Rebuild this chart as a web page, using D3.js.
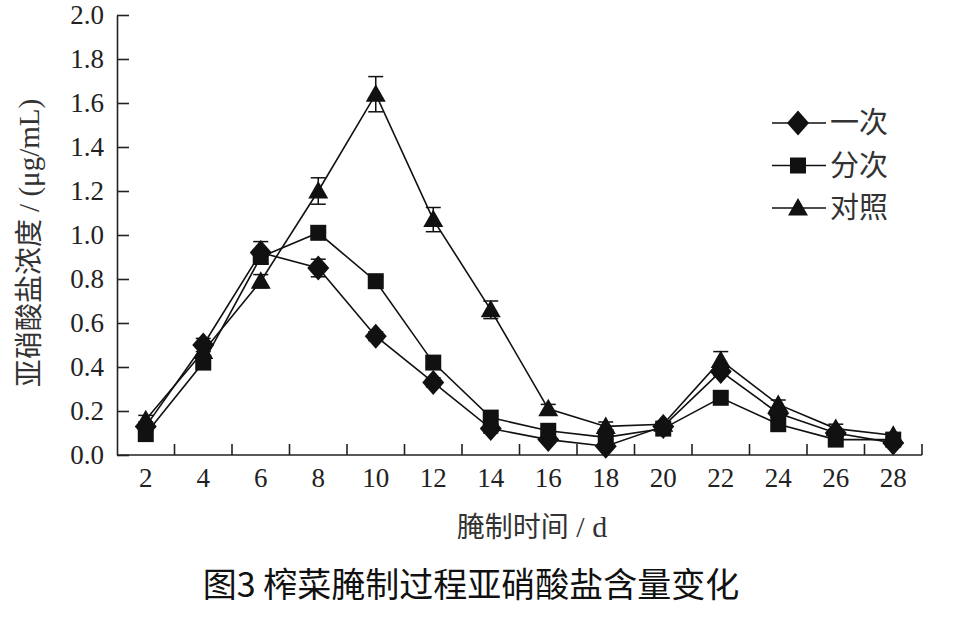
<!DOCTYPE html>
<html>
<head>
<meta charset="utf-8">
<script src="https://cdn.jsdelivr.net/npm/d3@7/dist/d3.min.js"></script>
<style>
  html, body { margin: 0; padding: 0; background: #fff; }
  svg { display: block; }
</style>
</head>
<body>
<svg id="chart" width="963" height="625"></svg>
<script>
// ---- data ----
const days = [2, 4, 6, 8, 10, 12, 14, 16, 18, 20, 22, 24, 26, 28];
const yTicks = [0, 0.2, 0.4, 0.6, 0.8, 1.0, 1.2, 1.4, 1.6, 1.8, 2.0];
const seriesNames = ["一次", "分次", "对照"];
const yici    = [0.13, 0.50, 0.92, 0.85, 0.54, 0.33, 0.12, 0.07, 0.04, 0.13, 0.38, 0.19, 0.10, 0.055];
const fenci   = [0.095, 0.42, 0.90, 1.01, 0.79, 0.42, 0.17, 0.11, 0.08, 0.12, 0.26, 0.14, 0.07, 0.07];
const duizhao = [0.16, 0.47, 0.79, 1.20, 1.64, 1.07, 0.66, 0.21, 0.13, 0.14, 0.43, 0.23, 0.12, 0.09];
const yiciErr    = [0.02, 0.03, 0.05, 0.04, 0.02, 0.02, 0.02, 0.01, 0.01, 0.01, 0.02, 0.02, 0.01, 0.01];
const fenciErr   = [0.01, 0.02, 0.03, 0.02, 0.02, 0.02, 0.01, 0.01, 0.01, 0.01, 0.02, 0.01, 0.01, 0.01];
const duizhaoErr = [0.02, 0.02, 0.03, 0.06, 0.08, 0.055, 0.04, 0.02, 0.02, 0.01, 0.04, 0.02, 0.02, 0.01];
const xLabelCN = "腌制时间";
const xLabelUnit = " / d";
const yLabelCN = "亚硝酸盐浓度";
const yLabelUnit = " / (μg/mL)";
const caption = "图3  榨菜腌制过程亚硝酸盐含量变化";

// ---- setup ----
const svg = d3.select("#chart");
const ink = "#111";
const serif = "'Liberation Serif', 'Times New Roman', serif";
const cjk = "'Noto Sans CJK SC', sans-serif";

const x = d3.scaleBand().domain(days).range([117, 922]).padding(0);
const y = d3.scaleLinear().domain([0, 2]).range([455, 15]);
const cx = d => x(d) + x.bandwidth() / 2;

const series = [
  { name: seriesNames[2], vals: duizhao, err: duizhaoErr, shape: "triangle" },
  { name: seriesNames[1], vals: fenci, err: fenciErr, shape: "square" },
  { name: seriesNames[0], vals: yici, err: yiciErr, shape: "diamond" }
];

function shapePath(shape) {
  if (shape === "diamond") return "M0,-12.5L11,0L0,12.5L-11,0Z";
  if (shape === "square") return "M-8,-8H8V8H-8Z";
  return "M0,-10L10,7.5H-10Z";
}

// ---- axes ----
const yAxis = d3.axisLeft(y).tickValues(yTicks).tickFormat(d3.format(".1f"))
  .tickSizeInner(-12).tickSizeOuter(0).tickPadding(13);
const gy = svg.append("g").attr("transform", "translate(117,0)").call(yAxis);
gy.selectAll("text").attr("font-family", serif).attr("font-size", 27).attr("fill", "#222");
gy.selectAll("line, path").attr("stroke", "#222").attr("stroke-width", 1.6);

const xAxis = d3.axisBottom(x).tickSize(0).tickPadding(13);
const gx = svg.append("g").attr("transform", "translate(0,455)").call(xAxis);
gx.select("path").remove();
gx.selectAll("text").attr("font-family", serif).attr("font-size", 27).attr("fill", "#222");
svg.append("line").attr("x1", x.range()[0]).attr("x2", x.range()[1])
  .attr("y1", y(0)).attr("y2", y(0)).attr("stroke", "#222").attr("stroke-width", 1.6);
// inward ticks at band edges
svg.append("g").selectAll("line").data(days).join("line")
  .attr("x1", d => x(d) + x.bandwidth()).attr("x2", d => x(d) + x.bandwidth())
  .attr("y1", y(0)).attr("y2", y(0) - 11)
  .attr("stroke", "#222").attr("stroke-width", 1.6);

// ---- lines ----
const line = d3.line().x((v, i) => cx(days[i])).y(v => y(v));
series.forEach(s => {
  svg.append("path").attr("d", line(s.vals)).attr("fill", "none")
    .attr("stroke", ink).attr("stroke-width", 1.6);
});

// ---- error bars ----
series.forEach(s => {
  const g = svg.append("g").attr("stroke", ink).attr("stroke-width", 1.5);
  s.vals.forEach((v, i) => {
    const xx = cx(days[i]);
    const top = y(v + s.err[i]), bot = y(v - s.err[i]);
    g.append("line").attr("x1", xx).attr("x2", xx).attr("y1", top).attr("y2", bot);
    g.append("line").attr("x1", xx - 7.5).attr("x2", xx + 7.5).attr("y1", top).attr("y2", top);
    g.append("line").attr("x1", xx - 7.5).attr("x2", xx + 7.5).attr("y1", bot).attr("y2", bot);
  });
});

// ---- markers ----
series.forEach(s => {
  svg.append("g").selectAll("path").data(s.vals).join("path")
    .attr("d", shapePath(s.shape))
    .attr("transform", (v, i) => `translate(${cx(days[i])},${y(v)})`)
    .attr("fill", ink);
});

// ---- legend ----
const legendItems = [
  { name: seriesNames[0], shape: "diamond" },
  { name: seriesNames[1], shape: "square" },
  { name: seriesNames[2], shape: "triangle" }
];
const lg = svg.append("g");
legendItems.forEach((it, i) => {
  const ly = 123 + i * 42.5;
  lg.append("line").attr("x1", 772).attr("x2", 826).attr("y1", ly).attr("y2", ly)
    .attr("stroke", ink).attr("stroke-width", 1.6);
  lg.append("path").attr("d", shapePath(it.shape))
    .attr("transform", `translate(798,${ly})`).attr("fill", ink);
  lg.append("text").attr("x", 830).attr("y", ly).attr("dy", "0.36em")
    .attr("font-family", cjk).attr("font-size", 29).attr("fill", "#333").text(it.name);
});

// ---- axis titles ----
svg.append("text").attr("x", 532).attr("y", 527).attr("dy", "0.36em")
  .attr("text-anchor", "middle").attr("fill", "#333").attr("font-size", 28)
  .call(t => {
    t.append("tspan").attr("font-family", cjk).text(xLabelCN);
    t.append("tspan").attr("font-family", serif).attr("font-size", 30).text(xLabelUnit);
  });

const yt = svg.append("text")
  .attr("transform", "translate(29,243) rotate(-90)")
  .attr("text-anchor", "middle").attr("dy", "0.36em").attr("fill", "#333").attr("font-size", 28);
yt.append("tspan").attr("font-family", cjk).text(yLabelCN);
yt.append("tspan").attr("font-family", serif).attr("font-size", 29).text(yLabelUnit);

// ---- caption ----
svg.append("text").attr("x", 471).attr("y", 585).attr("dy", "0.36em")
  .attr("text-anchor", "middle").attr("font-family", cjk).attr("font-size", 34)
  .attr("font-weight", 400).attr("fill", "#111").text(caption);
</script>
</body>
</html>
